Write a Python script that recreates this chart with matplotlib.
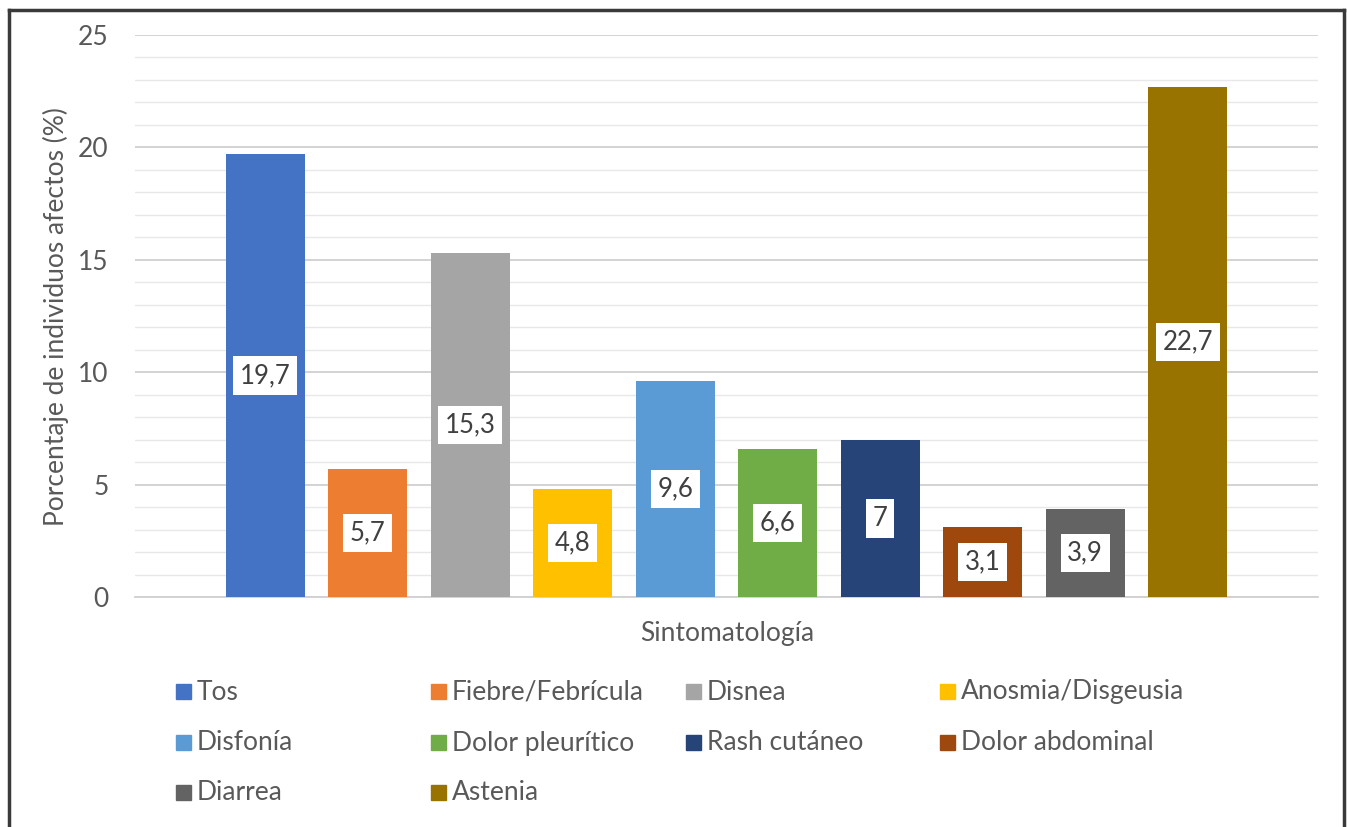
import numpy as np
import matplotlib.pyplot as plt
from matplotlib.patches import Rectangle
from matplotlib.lines import Line2D

# ---------- Data ----------
symptoms = ["Tos", "Fiebre/Febrícula", "Disnea", "Anosmia/Disgeusia", "Disfonía",
            "Dolor pleurítico", "Rash cutáneo", "Dolor abdominal", "Diarrea", "Astenia"]
values = [19.7, 5.7, 15.3, 4.8, 9.6, 6.6, 7.0, 3.1, 3.9, 22.7]
value_labels = ["19,7", "5,7", "15,3", "4,8", "9,6", "6,6", "7", "3,1", "3,9", "22,7"]
colors = ["#4472C4", "#ED7D31", "#A5A5A5", "#FFC000", "#5B9BD5",
          "#70AD47", "#264478", "#9E480E", "#636363", "#997300"]
y_ticks = [0, 5, 10, 15, 20, 25]

plt.rcParams['font.family'] = ['Lato', 'DejaVu Sans']
text_color = "#595959"

W, H = 1347, 827
fig = plt.figure(figsize=(W / 100, H / 100), dpi=100)
ax = fig.add_axes([135 / W, 1 - 597 / H, (1318 - 135) / W, (597 - 35) / H])

x = np.arange(len(values))
ax.bar(x, values, width=0.77, color=colors, zorder=3)

# data labels in white boxes at the middle of each bar
for xi, v, lab in zip(x, values, value_labels):
    ax.text(xi, v / 2, lab, ha="center", va="center", fontsize=18.5, color="#404040",
            zorder=4, bbox=dict(boxstyle="square,pad=0.26", fc="white", ec="none"))

ax.set_xlim(-1.27, 10.27)
ax.set_ylim(0, 25)
ax.set_yticks(y_ticks)
ax.set_yticks(np.arange(0, 26, 1), minor=True)
ax.set_xticks([])
ax.tick_params(axis="y", which="both", length=0, labelsize=19, labelcolor=text_color, pad=19)

ax.grid(axis="y", which="major", color="#D0D0D0", linewidth=1.3, zorder=0)
ax.grid(axis="y", which="minor", color="#E8E8E8", linewidth=1.0, zorder=0)
for side in ["top", "right", "left"]:
    ax.spines[side].set_visible(False)
ax.spines["bottom"].set_color("#D0D0D0")
ax.spines["bottom"].set_linewidth(1.3)

fig.text(56 / W, 1 - 317 / H, "Porcentaje de individuos afectos (%)", rotation=90,
         ha="center", va="center", fontsize=19, color=text_color)
fig.text(727 / W, 1 - 633 / H, "Sintomatología", ha="center", va="center",
         fontsize=19, color=text_color)

# legend laid out row by row, 4 equal columns
col_x = [176, 431, 686, 940]
row_y = [692, 743, 793]
for i, (name, c) in enumerate(zip(symptoms, colors)):
    r, k = divmod(i, 4)
    mx, my = col_x[k], row_y[r]
    fig.add_artist(Rectangle((mx / W, 1 - (my + 7) / H), 15 / W, 15 / H,
                             transform=fig.transFigure, color=c))
    fig.text((mx + 21) / W, 1 - my / H, name, ha="left", va="center",
             fontsize=19, color=text_color)

# outer frame (left, top, right)
frame = dict(transform=fig.transFigure, color="#3a3a3a", linewidth=2.5)
fig.add_artist(Line2D([9 / W, 9 / W], [0, 1 - 10 / H], **frame))
fig.add_artist(Line2D([9 / W, 1344 / W], [1 - 10 / H, 1 - 10 / H], **frame))
fig.add_artist(Line2D([1344 / W, 1344 / W], [0, 1 - 10 / H], **frame))

fig.savefig("out.png", dpi=100)
